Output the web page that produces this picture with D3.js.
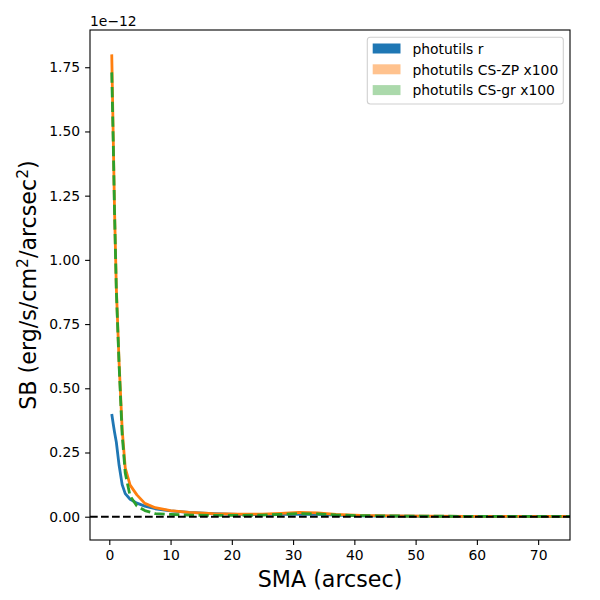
<!DOCTYPE html>
<html>
<head>
<meta charset="utf-8">
<script src="https://cdn.jsdelivr.net/npm/d3@7"></script>
<style>
  html, body { margin: 0; padding: 0; background: #fff; }
  text { font-family: "DejaVu Sans", sans-serif; }
</style>
</head>
<body>
<svg id="chart" width="600" height="600"></svg>
<script>
// SMA grid (arcsec)
const sma = [0.4, 0.65, 0.85, 1.15, 1.6, 2.1, 2.6, 3.4, 4.5, 5.8, 7.5, 10, 13, 17, 21, 25, 28, 31, 34, 37, 41, 46, 52, 58, 65, 72, 80];
// Surface brightness values, in units of 1e-12 erg/s/cm^2/arcsec^2
const sbR    = [0.40, 0.36, 0.33, 0.29, 0.20, 0.125, 0.09, 0.068, 0.053, 0.041, 0.031, 0.023, 0.017, 0.012, 0.009, 0.008, 0.009, 0.010, 0.009, 0.006, 0.003, 0.002, 0.001, 0.001, 0.0005, 0.0005, 0.0005];
const sbCSZP = [1.80, 1.47, 1.20, 0.89, 0.60, 0.34, 0.19, 0.123, 0.085, 0.052, 0.035, 0.024, 0.017, 0.012, 0.010, 0.010, 0.013, 0.017, 0.015, 0.009, 0.005, 0.003, 0.002, 0.0015, 0.001, 0.001, 0.001];
const sbCSgr = [1.73, 1.45, 1.19, 0.88, 0.59, 0.32, 0.17, 0.080, 0.042, 0.024, 0.012, 0.009, 0.006, 0.005, 0.005, 0.006, 0.009, 0.012, 0.011, 0.007, 0.004, 0.003, 0.002, 0.0015, 0.001, 0.001, 0.001];
const seriesNames = ["photutils r", "photutils CS-ZP x100", "photutils CS-gr x100"];
const xTicks = [0, 10, 20, 30, 40, 50, 60, 70];
const yTicks = [0.00, 0.25, 0.50, 0.75, 1.00, 1.25, 1.50, 1.75];

const svg = d3.select("#chart");
const L = 90, R = 570, T = 30, B = 540;
const x = d3.scaleLinear().domain([-3.15, 75.2]).range([L, R]);
const y = d3.scaleLinear().domain([-0.0907, 1.895]).range([B, T]);

svg.append("defs").append("clipPath").attr("id", "clip")
  .append("rect").attr("x", L).attr("y", T).attr("width", R - L).attr("height", B - T);

const plot = svg.append("g").attr("clip-path", "url(#clip)");
const line = d3.line().x(d => x(d[0])).y(d => y(d[1]));

const series = [
  { vals: sbR, color: "#1f77b4", dash: null },
  { vals: sbCSZP, color: "#ff7f0e", dash: null },
  { vals: sbCSgr, color: "#2ca02c", dash: "10.3,4.4" }
];
series.forEach(s => {
  plot.append("path")
    .datum(sma.map((v, i) => [v, s.vals[i]]))
    .attr("d", line)
    .attr("fill", "none")
    .attr("stroke", s.color)
    .attr("stroke-width", 2.8)
    .attr("stroke-linejoin", "round")
    .attr("stroke-dasharray", s.dash);
});

// zero line
plot.append("line")
  .attr("x1", L).attr("x2", R).attr("y1", y(0)).attr("y2", y(0))
  .attr("stroke", "#000").attr("stroke-width", 2.1)
  .attr("stroke-dasharray", "7.7,3.3");

// axes
const xAxis = d3.axisBottom(x).tickValues(xTicks).tickSize(4.9).tickPadding(4.9).tickFormat(d3.format("d"));
const yAxis = d3.axisLeft(y).tickValues(yTicks).tickSize(4.9).tickPadding(4.9).tickFormat(d3.format(".2f"));
const gx = svg.append("g").attr("transform", `translate(0,${B})`).call(xAxis);
const gy = svg.append("g").attr("transform", `translate(${L},0)`).call(yAxis);
[gx, gy].forEach(g => {
  g.select(".domain").remove();
  g.selectAll(".tick line").attr("stroke", "#000").attr("stroke-width", 1.1);
  g.selectAll(".tick text").attr("fill", "#000").style("font-size", "13.9px").style("font-family", "DejaVu Sans, sans-serif");
});

// frame
svg.append("rect").attr("x", L).attr("y", T).attr("width", R - L).attr("height", B - T)
  .attr("fill", "none").attr("stroke", "#000").attr("stroke-width", 1.1);

// offset text
svg.append("text").attr("x", L).attr("y", 25.5).style("font-size", "13.9px").text("1e\u221212");

// axis labels
svg.append("text").attr("x", (L + R) / 2).attr("y", 587).attr("text-anchor", "middle")
  .style("font-size", "22.2px").text("SMA (arcsec)");

const yl = svg.append("text").attr("transform", `translate(36,${(T + B) / 2}) rotate(-90)`)
  .attr("text-anchor", "middle").style("font-size", "22.2px");
yl.append("tspan").text("SB (erg/s/cm");
yl.append("tspan").attr("dy", -8).style("font-size", "15.5px").text("2");
yl.append("tspan").attr("dy", 8).text("/arcsec");
yl.append("tspan").attr("dy", -8).style("font-size", "15.5px").text("2");
yl.append("tspan").attr("dy", 8).text(")");

// legend
const lg = svg.append("g");
lg.append("rect").attr("x", 367.3).attr("y", 37.3).attr("width", 196).attr("height", 66.7)
  .attr("rx", 3).attr("fill", "#fff").attr("fill-opacity", 0.8)
  .attr("stroke", "#d0d0d0").attr("stroke-width", 1.1);
const patchColors = ["#1f77b4", "#ffc28e", "#abd9ab"];
seriesNames.forEach((n, i) => {
  const cy = 49 + i * 20.8;
  lg.append("rect").attr("x", 372.7).attr("y", cy - 5.5).attr("width", 27.8).attr("height", 10)
    .attr("fill", patchColors[i]);
  lg.append("text").attr("x", 412.5).attr("y", cy).attr("dy", "0.35em")
    .style("font-size", "13.9px").text(n);
});
</script>
</body>
</html>
